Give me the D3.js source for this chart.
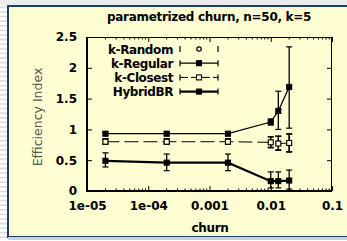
<!DOCTYPE html>
<html>
<head>
<meta charset="utf-8">
<script src="https://cdn.jsdelivr.net/npm/d3@7"></script>
<style>
  body { margin: 0; background: #fff; }
  svg { display: block; }
  text { font-family: "DejaVu Sans", sans-serif; }
</style>
</head>
<body>
<svg class="chart" width="347" height="241"></svg>
<script>
// churn rates (x) and efficiency index per protocol
var churn = [2e-5, 2e-4, 2e-3, 0.01, 0.0133, 0.02];

var kRandom   = [0.81, 0.81, 0.81, 0.79, 0.78, 0.78];
var kRandomLo = [0.77, 0.77, 0.77, 0.71, 0.67, 0.64];
var kRandomHi = [0.85, 0.85, 0.85, 0.88, 0.89, 0.92];

var kRegular   = [0.93, 0.93, 0.93, 1.12, 1.30, 1.69];
var kRegularLo = [0.90, 0.90, 0.90, 1.07, 1.00, 1.02];
var kRegularHi = [0.96, 0.96, 0.96, 1.17, 1.62, 2.34];

var kClosest   = [0.80, 0.80, 0.80, 0.79, 0.77, 0.78];
var kClosestLo = [0.76, 0.76, 0.76, 0.70, 0.66, 0.63];
var kClosestHi = [0.84, 0.84, 0.84, 0.88, 0.89, 0.93];

var hybridBR   = [0.49, 0.46, 0.46, 0.16, 0.16, 0.17];
var hybridBRLo = [0.39, 0.33, 0.33, 0.05, 0.05, 0.03];
var hybridBRHi = [0.62, 0.60, 0.60, 0.31, 0.31, 0.34];

var xTicks = [1e-5, 1e-4, 1e-3, 1e-2, 1e-1];
var xTickLabels = ["1e-05", "1e-04", "0.001", "0.01", "0.1"];
var yTicks = [0, 0.5, 1, 1.5, 2, 2.5];
var yTickLabels = ["0", "0.5", "1", "1.5", "2", "2.5"];

var seriesNames = ["k-Random", "k-Regular", "k-Closest", "HybridBR"];

(function drawChart() {
    var svg = d3.select("svg.chart");

    // slide background: grey stripes, yellow panel with a blue frame
    var stripes = d3.range(2, 241, 4.6);
    svg.selectAll(".stripe")
        .data(stripes)
        .enter().append("rect")
        .attr("class", "stripe")
        .attr("x", 0).attr("y", function(d) { return d; })
        .attr("width", 8).attr("height", 1.6)
        .attr("fill", "#dcdcdc");
    svg.append("rect")
        .attr("x", 0).attr("y", 0).attr("width", 347).attr("height", 5)
        .attr("fill", "#ececec");
    svg.append("rect")
        .attr("x", 8).attr("y", 6).attr("width", 345).attr("height", 231)
        .attr("fill", "#fffdd2")
        .attr("stroke", "#1d3e6e").attr("stroke-width", 2);
    svg.append("line")
        .attr("x1", 8).attr("x2", 347).attr("y1", 238.5).attr("y2", 238.5)
        .attr("stroke", "#c9d2dc").attr("stroke-width", 3);

    var margin = {top: 37, right: 15, bottom: 50, left: 87},
        width = 347 - margin.left - margin.right,
        height = 241 - margin.top - margin.bottom;

    var x = d3.scaleLog().domain([1e-5, 1e-1]).range([0, width]),
        y = d3.scaleLinear().domain([0, 2.5]).range([height, 0]);

    var g = svg.append("g")
        .attr("transform", "translate(" + margin.left + "," + margin.top + ")");

    // title
    svg.append("text")
        .attr("x", 209).attr("y", 21)
        .attr("text-anchor", "middle")
        .style("font-size", "12px").style("font-weight", "bold")
        .style("letter-spacing", "-0.3px")
        .text("parametrized churn, n=50, k=5");

    // minor ticks on log axis (bottom and top, inward)
    var minor = [];
    for (var e = -5; e < -1; e++) {
        for (var m = 2; m < 10; m++) minor.push(m * Math.pow(10, e));
    }
    g.selectAll(".minor-b")
        .data(minor).enter().append("line")
        .attr("x1", function(d) { return x(d); }).attr("x2", function(d) { return x(d); })
        .attr("y1", height).attr("y2", height - 2.5)
        .attr("stroke", "#000");
    g.selectAll(".minor-t")
        .data(minor).enter().append("line")
        .attr("x1", function(d) { return x(d); }).attr("x2", function(d) { return x(d); })
        .attr("y1", 0).attr("y2", 2.5)
        .attr("stroke", "#000");

    // x axis
    var xAxis = g.append("g")
        .attr("class", "x-axis")
        .attr("transform", "translate(0," + height + ")")
        .call(d3.axisBottom(x).tickValues(xTicks)
            .tickFormat(function(d, i) { return xTickLabels[i]; })
            .tickSizeInner(-5).tickSizeOuter(0).tickPadding(10));
    xAxis.select(".domain").remove();
    xAxis.selectAll("text")
        .style("font-size", "12px").style("font-weight", "bold")
        .style("font-family", "DejaVu Sans").attr("fill", "#000");

    var xAxisTop = g.append("g")
        .call(d3.axisTop(x).tickValues(xTicks).tickFormat("")
            .tickSizeInner(-5).tickSizeOuter(0));
    xAxisTop.select(".domain").remove();

    // y axis
    var yAxis = g.append("g")
        .attr("class", "y-axis")
        .call(d3.axisLeft(y).tickValues(yTicks)
            .tickFormat(function(d, i) { return yTickLabels[i]; })
            .tickSizeInner(-5).tickSizeOuter(0).tickPadding(10));
    yAxis.select(".domain").remove();
    yAxis.selectAll("text")
        .style("font-size", "12px").style("font-weight", "bold")
        .style("font-family", "DejaVu Sans").attr("fill", "#000");

    var yAxisRight = g.append("g")
        .attr("transform", "translate(" + width + ",0)")
        .call(d3.axisRight(y).tickValues(yTicks).tickFormat("")
            .tickSizeInner(-5).tickSizeOuter(0));
    yAxisRight.select(".domain").remove();

    // border
    g.append("line").attr("x1", 0).attr("x2", width).attr("y1", 0.5).attr("y2", 0.5)
        .attr("stroke", "#000");
    g.append("line").attr("x1", width - 0.5).attr("x2", width - 0.5).attr("y1", 0).attr("y2", height)
        .attr("stroke", "#000");
    g.append("line").attr("x1", 0).attr("x2", 0).attr("y1", 0).attr("y2", height + 1)
        .attr("stroke", "#000").attr("stroke-width", 2);
    g.append("line").attr("x1", -1).attr("x2", width).attr("y1", height).attr("y2", height)
        .attr("stroke", "#000").attr("stroke-width", 2);

    // axis labels
    svg.append("text")
        .attr("transform", "translate(42,117) rotate(-90)")
        .attr("text-anchor", "middle")
        .style("font-size", "12.5px").attr("fill", "#555")
        .text("Efficiency Index");
    svg.append("text")
        .attr("x", 210).attr("y", 232)
        .attr("text-anchor", "middle")
        .style("font-size", "12px").style("font-weight", "bold")
        .style("letter-spacing", "-0.3px")
        .text("churn");

    var series = [
        {name: seriesNames[0], v: kRandom, lo: kRandomLo, hi: kRandomHi, line: false, mark: "circle", fill: "none", w: 1, dash: null},
        {name: seriesNames[1], v: kRegular, lo: kRegularLo, hi: kRegularHi, line: true, mark: "square", fill: "#000", w: 1.3, dash: null},
        {name: seriesNames[2], v: kClosest, lo: kClosestLo, hi: kClosestHi, line: true, mark: "square", fill: "none", w: 1, dash: "14,5"},
        {name: seriesNames[3], v: hybridBR, lo: hybridBRLo, hi: hybridBRHi, line: true, mark: "square", fill: "#000", w: 2.2, dash: null}
    ];

    var line = d3.line()
        .x(function(d) { return x(d.c); })
        .y(function(d) { return y(d.v); });

    function marker(sel, s, cx, cy) {
        if (s.mark === "circle") {
            sel.append("circle").attr("cx", cx).attr("cy", cy).attr("r", 2.2)
                .attr("fill", "none").attr("stroke", "#000").attr("stroke-width", 1.2);
        } else {
            sel.append("rect").attr("x", cx - 2.5).attr("y", cy - 2.5)
                .attr("width", 5).attr("height", 5)
                .attr("fill", s.fill === "none" ? "#fffdd2" : s.fill)
                .attr("stroke", "#000").attr("stroke-width", 1.1);
        }
    }

    series.forEach(function(s) {
        var pts = churn.map(function(c, i) { return {c: c, v: s.v[i], lo: s.lo[i], hi: s.hi[i]}; });
        var sg = g.append("g").attr("class", "series");
        if (s.line) {
            sg.append("path").datum(pts)
                .attr("d", line)
                .attr("fill", "none").attr("stroke", "#000")
                .attr("stroke-width", s.w)
                .attr("stroke-dasharray", s.dash);
        }
        pts.forEach(function(p) {
            var px = x(p.c);
            sg.append("line").attr("x1", px).attr("x2", px)
                .attr("y1", y(p.lo)).attr("y2", y(p.hi))
                .attr("stroke", "#000").attr("stroke-width", 1.3);
            [p.lo, p.hi].forEach(function(b) {
                sg.append("line").attr("x1", px - 3).attr("x2", px + 3)
                    .attr("y1", y(b)).attr("y2", y(b))
                    .attr("stroke", "#000").attr("stroke-width", 1.2);
            });
        });
        pts.forEach(function(p) { marker(sg, s, x(p.c), y(p.v)); });
    });

    // legend
    var legend = svg.append("g").attr("class", "legend");
    series.forEach(function(s, i) {
        var ly = 49 + i * 14.2;
        legend.append("text")
            .attr("x", 173).attr("y", ly + 4.5)
            .attr("text-anchor", "end")
            .style("font-size", "12px").style("font-weight", "bold")
            .style("letter-spacing", "-0.4px")
            .text(s.name);
        if (s.line) {
            legend.append("line").attr("x1", 180).attr("x2", 218)
                .attr("y1", ly).attr("y2", ly)
                .attr("stroke", "#000").attr("stroke-width", s.w)
                .attr("stroke-dasharray", s.dash ? "8,3" : null);
        }
        [180, 218].forEach(function(ex) {
            legend.append("line").attr("x1", ex).attr("x2", ex)
                .attr("y1", ly - 3).attr("y2", ly + 3)
                .attr("stroke", "#000").attr("stroke-width", 1.2);
        });
        marker(legend, s, 199, ly);
    });
})();
</script>
</body>
</html>
